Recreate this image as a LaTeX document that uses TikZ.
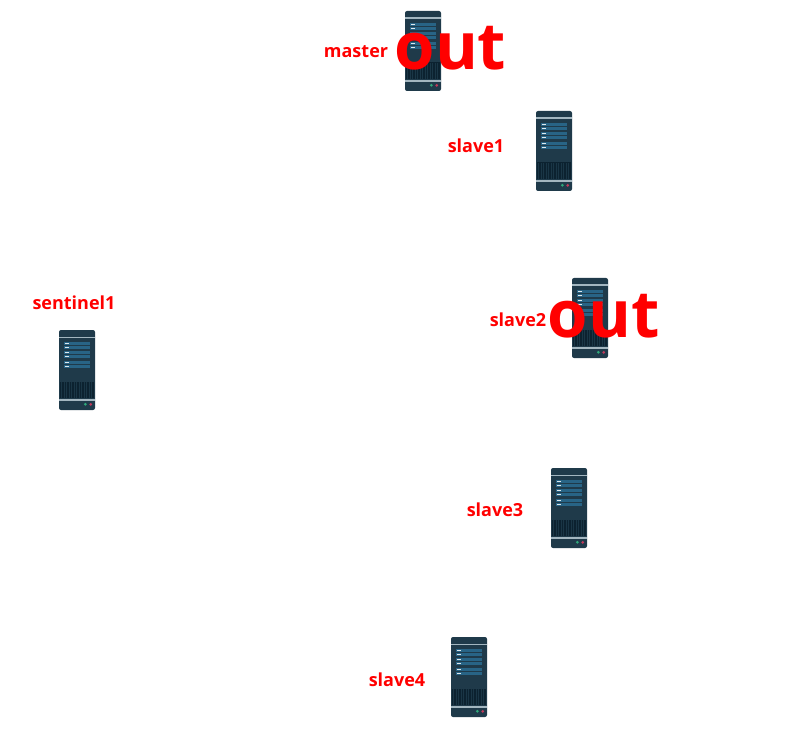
\documentclass[tikz,border=0pt]{standalone}
\usepackage{fontspec}
\setmainfont{Open Sans}
\usepackage{xcolor}
\usetikzlibrary{positioning}
\definecolor{bodyblue}{HTML}{1F3A4A}
\definecolor{panelblue}{HTML}{286486}
\definecolor{bandgrey}{HTML}{A3B6C0}
\definecolor{grilldark}{HTML}{0C2230}
\definecolor{grillbar}{HTML}{1A3646}
\definecolor{ledgreen}{HTML}{2FA87A}
\definecolor{ledred}{HTML}{C0395A}

\begin{document}
\begin{tikzpicture}[x=0.75pt, y=-0.75pt]
            \tikzset{
                hostlabel/.style = {text=red, font=\bfseries\fontsize{13.5}{16}\selectfont, inner sep=0pt},
                outmark/.style = {text=red, font=\bfseries\fontsize{49}{54}\selectfont, inner sep=0pt},
                server/.pic = {
                    % all numbers are pixels from the top left corner of the case
                    \fill [bodyblue, rounded corners=1.5pt] (0, 0) rectangle (36, 80);
                    \fill [bandgrey] (0, 6.5) rectangle (36, 8);
                    \foreach \rowy in {12, 15.7, 21, 24.7, 31, 35} {
                        \fill [panelblue] (5, \rowy) rectangle (31, \rowy + 3.4);
                        \fill [white!85!panelblue] (5.7, \rowy + 1) rectangle (10.3, \rowy + 2.2);
                    }
                    \fill [grilldark] (1, 51.5) rectangle (35, 68);
                    \foreach \barx in {2.5, 5, 7.5, ..., 33} {
                        \draw [grillbar, line width=0.3pt] (\barx, 52) -- (\barx, 68);
                    }
                    \fill [bandgrey] (0, 69) rectangle (36, 71);
                    \fill [ledgreen] (26.3, 74.3) circle (1.5);
                    \fill [ledred] (31.7, 74.3) circle (1.5);
                }
            }
            \useasboundingbox (0, 0) rectangle (812, 730);

            \pic (Smaster) at (405, 11) {server};
            \pic (Sslave1) at (536, 111) {server};
            \pic (Sslave2) at (572, 278) {server};
            \pic (Sslave3) at (551, 468) {server};
            \pic (Sslave4) at (451, 637) {server};
            \pic (Ssentinel1) at (59, 330) {server};

            \node [hostlabel] (Lmaster) at (356, 52) {master};
            \node [hostlabel] (Lslave1) at (476, 146) {slave1};
            \node [hostlabel] (Lslave2) at (518, 320) {slave2};
            \node [hostlabel] (Lslave3) at (495, 510) {slave3};
            \node [hostlabel] (Lslave4) at (397, 680) {slave4};
            \node [hostlabel] (Lsentinel1) at (74, 303) {sentinel1};

            \node [outmark] (Omaster) at (450.5, 48) {out};
            \node [outmark] (Oslave2) at (603.5, 316) {out};
        \end{tikzpicture}
\end{document}
